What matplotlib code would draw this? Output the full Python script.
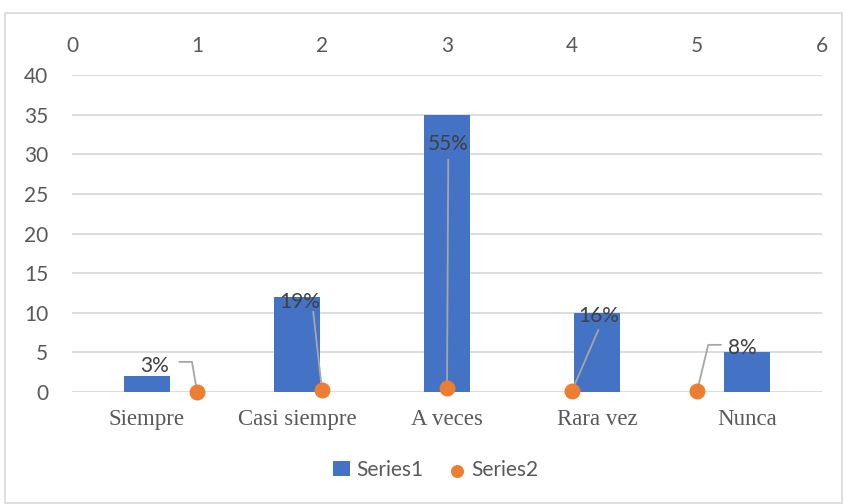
import matplotlib
matplotlib.use("Agg")
import matplotlib.pyplot as plt
from matplotlib.patches import Rectangle

categories = ["Siempre", "Casi siempre", "A veces", "Rara vez", "Nunca"]
series1 = [2, 12, 35, 10, 5]
series2_x = [1, 2, 3, 4, 5]
series2_y = [0.03, 0.19, 0.55, 0.16, 0.08]
series2_labels = ["3%", "19%", "55%", "16%", "8%"]
yticks = [0, 5, 10, 15, 20, 25, 30, 35, 40]
top_ticks = [0, 1, 2, 3, 4, 5, 6]

BLUE = "#4472C4"
ORANGE = "#ED7D31"
GRID = "#D9D9D9"
TXT = "#595959"
LEAD = "#A6A6A6"
NUMFONT = "Lato"
NUMSIZE = 15

W, H = 844, 504
fig = plt.figure(figsize=(W / 100, H / 100), dpi=100)
fig.patches.append(Rectangle((5 / W, 1 / H), 837 / W, 490 / H, transform=fig.transFigure,
                             fill=False, edgecolor=GRID, linewidth=1.2))

ax = fig.add_axes([72 / W, 112 / H, 750 / W, 317 / H])
xs = list(range(len(categories)))
ax.bar(xs, series1, width=0.31, color=BLUE, zorder=2, label="Series1")
ax.set_xlim(-0.5, len(categories) - 0.5)
ax.set_ylim(0, 40)
ax.set_yticks(yticks)
ax.set_xticks(xs)
ax.set_xticklabels(categories, family="Liberation Serif", fontsize=16.5, color=TXT)
ax.tick_params(axis="x", length=0, pad=12)
ax.tick_params(axis="y", length=0, pad=17, labelsize=NUMSIZE, labelcolor=TXT)
for t in ax.get_yticklabels():
    t.set_family(NUMFONT)
ax.grid(axis="y", color=GRID, linewidth=1.3, zorder=0)
ax.set_axisbelow(True)
for s in ax.spines.values():
    s.set_visible(False)

ax2 = ax.twiny()
ax2.set_xlim(0, 6)
ax2.set_xticks(top_ticks)
ax2.tick_params(axis="x", length=0, pad=14, labelsize=NUMSIZE, labelcolor=TXT)
for t in ax2.get_xticklabels():
    t.set_family(NUMFONT)
for s in ax2.spines.values():
    s.set_visible(False)
ax2.scatter(series2_x, series2_y, s=110, color=ORANGE, zorder=5, clip_on=False, label="Series2")

# data labels with leader lines (layout positions)
label_pos = [(0.66, 3.3), (1.82, 11.3), (3.01, 31.3), (4.21, 9.6), (5.36, 5.55)]
leader_paths = [
    [(0.86, 3.8), (0.96, 3.8)],
    [(1.93, 10.1)],
    [(3.01, 29.3)],
    [(4.21, 7.8)],
    [(5.19, 5.95), (5.09, 5.95)],
]
for xv, yv, lab, (tx, ty), path in zip(series2_x, series2_y, series2_labels, label_pos, leader_paths):
    px = [p[0] for p in path] + [xv]
    py = [p[1] for p in path] + [yv]
    ax2.plot(px, py, color=LEAD, linewidth=1.3, zorder=4)
    ax2.text(tx, ty, lab, ha="center", va="center", fontsize=NUMSIZE, color="#404040",
             family=NUMFONT, zorder=6)

h1, l1 = ax.get_legend_handles_labels()
h2, l2 = ax2.get_legend_handles_labels()
leg = fig.legend(h1 + h2, l1 + l2, loc="center", bbox_to_anchor=(436 / W, 1 - 470 / H), ncol=2,
                 frameon=False, prop={"family": NUMFONT, "size": NUMSIZE}, handlelength=0.8,
                 handletextpad=0.3, columnspacing=1.2, markerscale=0.8)
for t in leg.get_texts():
    t.set_color(TXT)

fig.savefig("out.png", dpi=100)
